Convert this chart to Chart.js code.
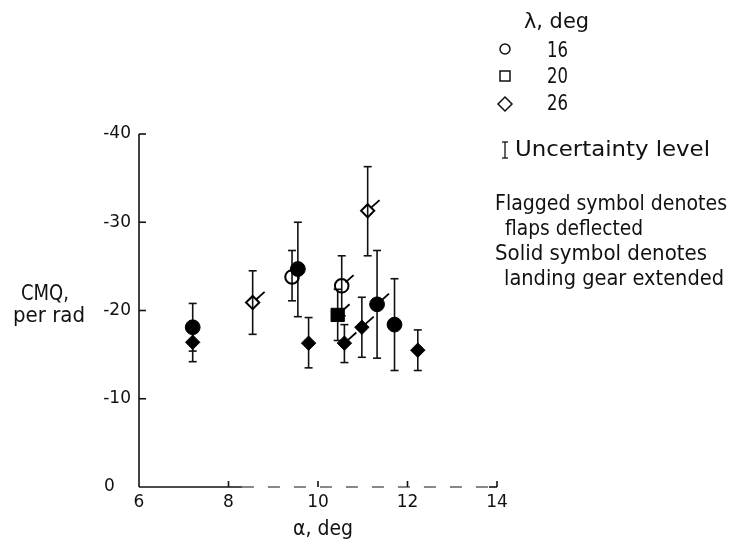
<!DOCTYPE html>
<html><head><meta charset="utf-8">
<script src="https://cdn.jsdelivr.net/npm/chart.js@4/dist/chart.umd.min.js"></script>
<style>html,body{margin:0;padding:0;background:#fff;}canvas{display:block;}</style>
</head><body>
<canvas id="c" width="732" height="549"></canvas>
<script>
// ---- data ----
const xTicks = [6, 8, 10, 12, 14];
const yTicks = [-40, -30, -20, -10, 0];
const lambdaLabels = ['16', '20', '26'];

// lambda = 16 deg (circles)
const alpha16 = [7.20, 9.42, 9.55, 10.53, 11.32, 11.71];
const cmq16   = [-18.1, -23.8, -24.7, -22.8, -20.7, -18.4];
const hi16    = [-20.8, -26.8, -30.0, -26.2, -26.8, -23.6];
const lo16    = [-15.4, -21.1, -19.3, -19.4, -14.6, -13.2];
const solid16 = [true, false, true, false, true, true];
const flag16  = [false, false, false, true, true, false];

// lambda = 20 deg (squares)
const alpha20 = [10.44];
const cmq20   = [-19.5];
const hi20    = [-22.4];
const lo20    = [-16.6];
const solid20 = [true];
const flag20  = [true];

// lambda = 26 deg (diamonds)
const alpha26 = [7.20, 8.54, 9.79, 10.59, 10.98, 11.11, 12.23];
const cmq26   = [-16.4, -20.9, -16.3, -16.3, -18.1, -31.3, -15.5];
const hi26    = [-18.6, -24.5, -19.2, -18.4, -21.5, -36.3, -17.8];
const lo26    = [-14.2, -17.3, -13.5, -14.1, -14.7, -26.2, -13.2];
const solid26 = [true, false, true, true, true, false, true];
const flag26  = [false, true, false, true, true, true, false];

function pts(a, c, h, l, s, f) {
  return a.map((v, i) => ({x: v, y: c[i], hi: h[i], lo: l[i], solid: s[i], flag: f[i]}));
}
function mk(label, data, style, r) {
  return {
    label, data, pointStyle: style, showLine: false,
    pointRadius: data.map(p => p.solid ? r : r - 0.6),
    pointHoverRadius: data.map(p => p.solid ? r : r - 0.6),
    pointBackgroundColor: data.map(p => p.solid ? '#000' : 'rgba(0,0,0,0)'),
    pointBorderColor: '#000',
    pointBorderWidth: data.map(p => p.solid ? 1 : 2)
  };
}

const FONT = "'DejaVu Sans Condensed','DejaVu Sans',sans-serif";

function line(ctx, x1, y1, x2, y2) { ctx.beginPath(); ctx.moveTo(x1, y1); ctx.lineTo(x2, y2); ctx.stroke(); }
function fitText(ctx, t, x, y, w, size) {
  ctx.save();
  ctx.font = size + 'px ' + FONT;
  const m = ctx.measureText(t).width;
  ctx.translate(x, y);
  ctx.scale(w / m, 1);
  ctx.textAlign = 'left'; ctx.textBaseline = 'alphabetic';
  ctx.fillText(t, 0, 0);
  ctx.restore();
}

const deco = {
  id: 'deco',
  beforeDatasetsDraw(chart) {
    const {ctx, scales: {x, y}} = chart;
    ctx.save();
    ctx.strokeStyle = '#111';
    ctx.lineWidth = 1.6;
    const x0 = x.getPixelForValue(xTicks[0]), x1 = x.getPixelForValue(xTicks[xTicks.length - 1]);
    const y0 = y.getPixelForValue(0), yt = y.getPixelForValue(yTicks[0]);
    line(ctx, x0, yt, x0, y0);
    // x axis (faint, broken in scan)
    const xs = x.getPixelForValue(8.3);
    line(ctx, x0, y0, xs, y0);
    ctx.save(); ctx.lineWidth = 1.2; ctx.setLineDash([12, 14]);
    line(ctx, xs, y0, x1, y0);
    ctx.restore();
    yTicks.forEach(v => { if (v !== 0) { const py = y.getPixelForValue(v); line(ctx, x0, py, x0 + 7, py); } });
    xTicks.forEach(v => { if (v !== xTicks[0]) { const px = x.getPixelForValue(v); line(ctx, px - (v === 14 ? 8 : 0), y0, px, y0); line(ctx, px, y0, px, y0 - 6); } });
    // error bars
    ctx.lineWidth = 1.6;
    chart.data.datasets.forEach(ds => ds.data.forEach(p => {
      const px = x.getPixelForValue(p.x);
      const ph = y.getPixelForValue(p.hi), pl = y.getPixelForValue(p.lo);
      line(ctx, px, ph, px, pl);
      line(ctx, px - 4, ph, px + 4, ph);
      line(ctx, px - 4, pl, px + 4, pl);
    }));
    ctx.restore();
  },
  afterDatasetsDraw(chart) {
    const {ctx, scales: {x, y}} = chart;
    ctx.save();
    ctx.strokeStyle = '#000'; ctx.lineWidth = 1.8;
    const dx = Math.cos(Math.PI / 4.3), dy = -Math.sin(Math.PI / 4.3);
    chart.data.datasets.forEach(ds => ds.data.forEach(p => {
      if (!p.flag) return;
      const px = x.getPixelForValue(p.x), py = y.getPixelForValue(p.y);
      line(ctx, px + dx * 5, py + dy * 5, px + dx * 16, py + dy * 16);
    }));
    ctx.restore();
  },
  afterDraw(chart) {
    const {ctx} = chart;
    ctx.save();
    ctx.fillStyle = '#111'; ctx.strokeStyle = '#111';
    // legend
    fitText(ctx, 'λ, deg', 524, 28, 65, 21);
    ctx.lineWidth = 1.5;
    ctx.beginPath(); ctx.arc(505, 49, 5, 0, Math.PI * 2); ctx.stroke();
    ctx.strokeRect(500, 71, 10, 10);
    ctx.beginPath(); ctx.moveTo(505, 97); ctx.lineTo(512, 104); ctx.lineTo(505, 111); ctx.lineTo(498, 104); ctx.closePath(); ctx.stroke();
    fitText(ctx, lambdaLabels[0], 547, 57, 21, 21);
    fitText(ctx, lambdaLabels[1], 547, 83, 21, 21);
    fitText(ctx, lambdaLabels[2], 547, 110, 21, 21);
    // uncertainty symbol
    ctx.lineWidth = 1.3;
    line(ctx, 505, 142, 505, 158); line(ctx, 502, 142, 508, 142); line(ctx, 502, 158, 508, 158);
    fitText(ctx, 'Uncertainty level', 515, 156, 195, 21);
    fitText(ctx, 'Flagged symbol denotes', 495, 210, 232, 21);
    fitText(ctx, 'flaps deflected', 505, 235, 138, 21);
    fitText(ctx, 'Solid symbol denotes', 495, 260, 212, 21);
    fitText(ctx, 'landing gear extended', 504, 285, 220, 21);
    // axis titles
    fitText(ctx, 'CMQ,', 21, 300, 48, 21);
    fitText(ctx, 'per rad', 13, 322, 72, 21);
    fitText(ctx, 'α, deg', 293, 535, 60, 21);
    ctx.restore();
  }
};

new Chart(document.getElementById('c'), {
  type: 'scatter',
  data: {
    datasets: [
      mk('16', pts(alpha16, cmq16, hi16, lo16, solid16, flag16), 'circle', 7.4),
      mk('20', pts(alpha20, cmq20, hi20, lo20, solid20, flag20), 'rect', 9.4),
      mk('26', pts(alpha26, cmq26, hi26, lo26, solid26, flag26), 'rectRot', 7.2)
    ]
  },
  options: {
    responsive: false, animation: false,
    layout: {padding: {left: 0, right: 235, top: 134, bottom: 0}},
    plugins: {legend: {display: false}, tooltip: {enabled: false}},
    scales: {
      x: {
        type: 'linear', min: 6, max: 14,
        afterBuildTicks: s => { s.ticks = xTicks.map(v => ({value: v})); },
        afterFit: s => { s.height = 62; },
        grid: {display: false, drawTicks: false}, border: {display: false},
        ticks: {padding: 5, color: '#111', font: {family: 'DejaVu Sans', size: 17}, callback: v => String(v)}
      },
      y: {
        type: 'linear', min: -40, max: 0, reverse: true,
        afterBuildTicks: s => { s.ticks = yTicks.map(v => ({value: v})); },
        afterFit: s => { s.width = 139; },
        grid: {display: false, drawTicks: false}, border: {display: false},
        ticks: {padding: 8, color: '#111', font: {family: 'DejaVu Sans', size: 17}, callback: v => (v === 0 ? '0   ' : String(v))}
      }
    }
  },
  plugins: [deco]
});
</script>
</body></html>
